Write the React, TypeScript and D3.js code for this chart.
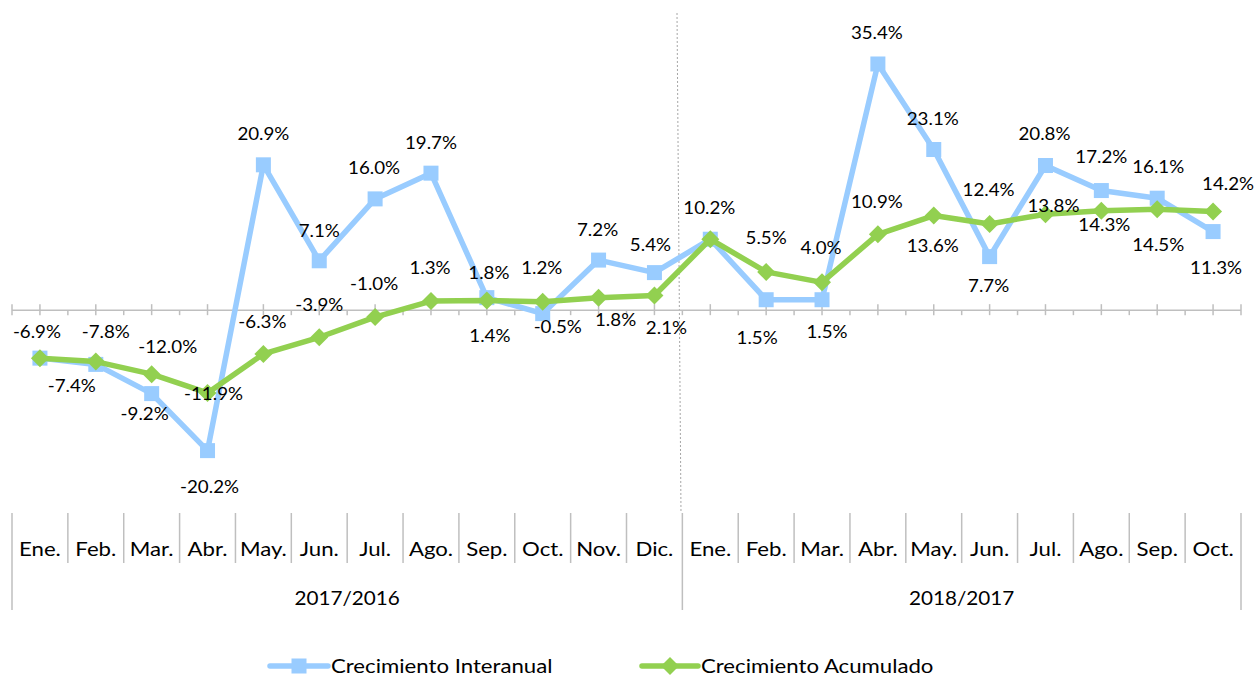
import React from "react";
import * as d3 from "d3";

const months = ["Ene.", "Feb.", "Mar.", "Abr.", "May.", "Jun.", "Jul.", "Ago.", "Sep.", "Oct.", "Nov.", "Dic.",
  "Ene.", "Feb.", "Mar.", "Abr.", "May.", "Jun.", "Jul.", "Ago.", "Sep.", "Oct."];
const groups = [
  { label: "2017/2016", start: 0, end: 12 },
  { label: "2018/2017", start: 12, end: 22 },
];
const interanual = [-6.9, -7.8, -12.0, -20.2, 20.9, 7.1, 16.0, 19.7, 1.8, -0.5, 7.2, 5.4,
  10.2, 1.5, 1.5, 35.4, 23.1, 7.7, 20.8, 17.2, 16.1, 11.3];
const acumulado = [-6.9, -7.4, -9.2, -11.9, -6.3, -3.9, -1.0, 1.3, 1.4, 1.2, 1.8, 2.1,
  10.2, 5.5, 4.0, 10.9, 13.6, 12.4, 13.8, 14.3, 14.5, 14.2];
const seriesNames = ["Crecimiento Interanual", "Crecimiento Acumulado"];

// label placement offsets (layout only)
const blueLabelOffsets: ([number, number] | null)[] = [
  [-3, -27], [10, -33], [16, -47], [2, 36], [0, -32], [0, -31], [-1, -32], [0, -31], [2, -25], [15, 13], [-1, -31], [-4, -28],
  [-1, -32], [-9, 37], [5, 31], [-1, -32], [-1, -31], [-1, 29], [-1, -32], [0, -34], [1, -32], [3, 36],
];
const greenLabelOffsets: ([number, number] | null)[] = [
  null, [-24, 24], [-7, 39], [6, 0], [-1, -33], [0, -33], [-1, -34], [-1, -34], [3, 35], [-1, -35], [17, 22], [12, 32],
  null, [0, -35], [-1, -35], [-1, -33], [-1, 30], [-1, -35], [8, -9], [3, 13], [1, 35], [15, -28],
];

const W = 1259, H = 677;
const BLUE = "#99CCFF";
const GREEN = "#92D050";
const AXIS = "#BFBFBF";
const FONT = "Lato, 'Open Sans', sans-serif";

function T({ x, y, size, sx = 1, anchor = "middle", children }: { x: number; y: number; size: number; sx?: number; anchor?: string; children: React.ReactNode }) {
  return (
    <text transform={`translate(${x},${y}) scale(${sx},1)`} textAnchor={anchor} dominantBaseline="central" fontSize={size} fill="#000">
      {children}
    </text>
  );
}

export default function App() {
  const x = d3.scaleBand<number>().domain(d3.range(months.length)).range([12, 1241]).paddingInner(0).paddingOuter(0);
  const bw = x.bandwidth();
  const cx = (i: number) => (x(i) as number) + bw / 2;
  const y = d3.scaleLinear().domain([-25, 40]).range([484, 32]);
  const y0 = y(0);
  const line = d3.line<number>().x((_, i) => cx(i)).y((d) => y(d));
  const fmt = (v: number) => v.toFixed(1) + "%";

  const sq = 15;
  const dm = 9;
  const diamond = (px: number, py: number) => `M${px},${py - dm}L${px + dm},${py}L${px},${py + dm}L${px - dm},${py}Z`;

  const boundaries = d3.range(months.length + 1).map((k) => 12 + bw * k);
  const groupEdges = [0, 12, 22];

  return (
    <svg width={W} height={H} style={{ position: "absolute", left: 0, top: 0, background: "#fff" }} fontFamily={FONT}>
      {/* dashed separator */}
      <line x1={677} y1={13} x2={681} y2={513} stroke="#A6A6A6" strokeWidth={1} strokeDasharray="2,2" />
      {/* zero axis */}
      <line x1={12} x2={1241} y1={y0} y2={y0} stroke={AXIS} strokeWidth={1.5} />
      {months.map((_, i) => (
        <line key={"tc" + i} x1={cx(i)} x2={cx(i)} y1={y0 - 6} y2={y0 + 5} stroke={AXIS} strokeWidth={1.5} />
      ))}
      {boundaries.map((bx, k) => (
        <line key={"tb" + k} x1={bx} x2={bx} y1={k === 0 || k === months.length ? y0 - 6 : y0} y2={y0 + 5} stroke={AXIS} strokeWidth={1.5} />
      ))}
      {/* series */}
      <path d={line(interanual) || ""} fill="none" stroke={BLUE} strokeWidth={5.5} strokeLinejoin="round" />
      {interanual.map((v, i) => (
        <rect key={"bs" + i} x={cx(i) - sq / 2} y={y(v) - sq / 2} width={sq} height={sq} fill={BLUE} />
      ))}
      <path d={line(acumulado) || ""} fill="none" stroke={GREEN} strokeWidth={5.5} strokeLinejoin="round" />
      {acumulado.map((v, i) => (
        <path key={"gd" + i} d={diamond(cx(i), y(v))} fill={GREEN} />
      ))}
      {/* labels */}
      {interanual.map((v, i) => {
        const o = blueLabelOffsets[i];
        if (!o) return null;
        return <T key={"bl" + i} x={cx(i) + o[0]} y={y(v) + o[1]} size={18} sx={1.04}>{fmt(v)}</T>;
      })}
      {acumulado.map((v, i) => {
        const o = greenLabelOffsets[i];
        if (!o) return null;
        return <T key={"gl" + i} x={cx(i) + o[0]} y={y(v) + o[1]} size={18} sx={1.04}>{fmt(v)}</T>;
      })}
      {/* category table */}
      {boundaries.map((bx, k) => (
        <line key={"cb" + k} x1={bx} x2={bx} y1={513} y2={groupEdges.includes(k) ? 610 : 563} stroke={AXIS} strokeWidth={1.5} />
      ))}
      {months.map((m, i) => (
        <T key={"m" + i} x={cx(i)} y={549} size={18.5} sx={1.2}>{m}</T>
      ))}
      {groups.map((g) => (
        <T key={g.label} x={(12 + bw * g.start + 12 + bw * g.end) / 2} y={597} size={19} sx={1.09}>{g.label}</T>
      ))}
      {/* legend */}
      <g>
        <line x1={270} x2={328} y1={666} y2={666} stroke={BLUE} strokeWidth={5.5} strokeLinecap="round" />
        <rect x={299 - sq / 2} y={666 - sq / 2} width={sq} height={sq} fill={BLUE} />
        <T x={331} y={665} size={20} sx={1.11} anchor="start">{seriesNames[0]}</T>
        <line x1={642} x2={698} y1={666} y2={666} stroke={GREEN} strokeWidth={5.5} strokeLinecap="round" />
        <path d={diamond(670, 666)} fill={GREEN} />
        <T x={701} y={665} size={20} sx={1.11} anchor="start">{seriesNames[1]}</T>
      </g>
    </svg>
  );
}
